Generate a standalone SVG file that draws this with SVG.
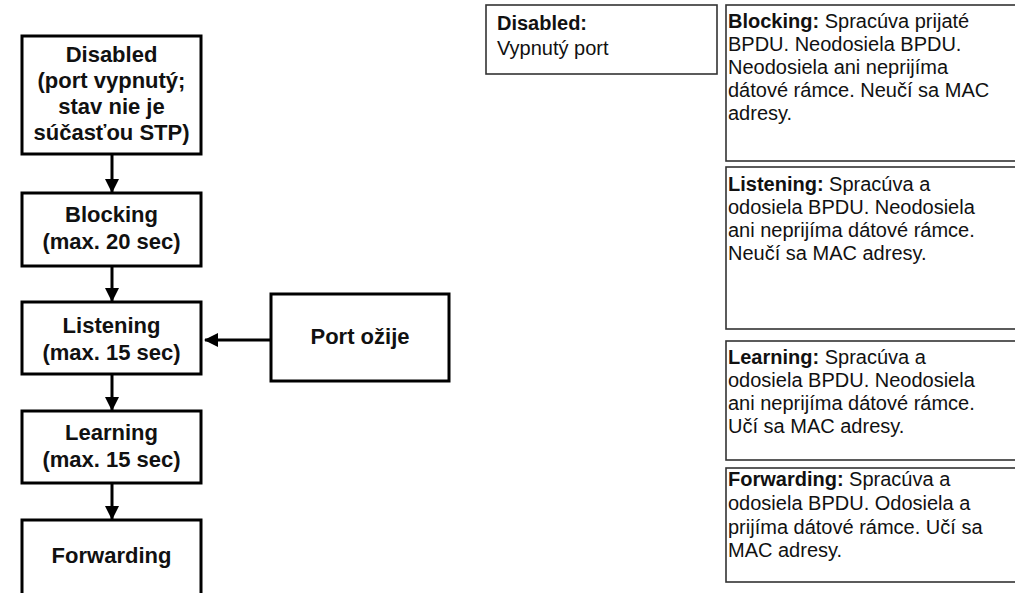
<svg xmlns="http://www.w3.org/2000/svg" width="1015" height="593" viewBox="0 0 1015 593">
<style>
.n{fill:#fff;stroke:#000;stroke-width:3}
.d{fill:#fff;stroke:#333;stroke-width:1.6}
.bt{font-family:"Liberation Sans",Arial,sans-serif;font-weight:bold;font-size:22px;fill:#111;text-anchor:middle}
.rt{font-family:"Liberation Sans",Arial,sans-serif;font-size:20px;fill:#111}
.rt .b{font-weight:bold}
.c{stroke:#000;stroke-width:3;fill:none}
</style>
<defs>
<marker id="ah" markerUnits="userSpaceOnUse" markerWidth="14" markerHeight="14" viewBox="0 0 14 14" refX="13" refY="7" orient="auto">
<path d="M0,0 L14,7 L0,14 z" fill="#000"/>
</marker>
</defs>
<rect width="1015" height="593" fill="#fff"/>
<g id="connectors">
<line class="c" x1="112" y1="155" x2="112" y2="192" marker-end="url(#ah)"/>
<line class="c" x1="112" y1="267" x2="112" y2="301" marker-end="url(#ah)"/>
<line class="c" x1="112" y1="375" x2="112" y2="410" marker-end="url(#ah)"/>
<line class="c" x1="112" y1="484" x2="112" y2="519" marker-end="url(#ah)"/>
<line class="c" x1="270" y1="340" x2="205" y2="340" marker-end="url(#ah)"/>
</g>
<g id="disabled">
<rect class="n" x="22" y="36" width="179" height="118"/>
<text class="bt" x="111.5" y="62">Disabled</text>
<text class="bt" x="111.5" y="88">(port vypnutý;</text>
<text class="bt" x="111.5" y="114">stav nie je</text>
<text class="bt" x="111.5" y="140">súčasťou STP)</text>
</g>
<g id="blocking">
<rect class="n" x="22" y="193" width="179" height="73"/>
<text class="bt" x="111.5" y="222">Blocking</text>
<text class="bt" x="111.5" y="249">(max. 20 sec)</text>
</g>
<g id="listening">
<rect class="n" x="22" y="302" width="179" height="72"/>
<text class="bt" x="111.5" y="333">Listening</text>
<text class="bt" x="111.5" y="360">(max. 15 sec)</text>
</g>
<g id="learning">
<rect class="n" x="22" y="411" width="179" height="72"/>
<text class="bt" x="111.5" y="440">Learning</text>
<text class="bt" x="111.5" y="467">(max. 15 sec)</text>
</g>
<g id="forwarding">
<rect class="n" x="22" y="520" width="179" height="76"/>
<text class="bt" x="111.5" y="563">Forwarding</text>
</g>
<g id="port-ozije">
<rect class="n" x="271" y="294" width="178" height="87"/>
<text class="bt" x="360" y="344">Port ožije</text>
</g>
<g id="desc-disabled">
<rect class="d" x="486" y="5" width="231" height="69"/>
<text class="rt" x="497" y="30"><tspan class="b">Disabled:</tspan></text>
<text class="rt" x="497" y="55">Vypnutý port</text>
</g>
<g id="desc-blocking">
<rect class="d" x="726" y="5" width="300" height="156"/>
<text class="rt" x="728" y="28"><tspan class="b">Blocking:</tspan> Spracúva prijaté</text>
<text class="rt" x="728" y="51">BPDU. Neodosiela BPDU.</text>
<text class="rt" x="728" y="74">Neodosiela ani neprijíma</text>
<text class="rt" x="728" y="97">dátové rámce. Neučí sa MAC</text>
<text class="rt" x="728" y="120">adresy.</text>
</g>
<g id="desc-listening">
<rect class="d" x="726" y="167" width="300" height="162"/>
<text class="rt" x="728" y="191"><tspan class="b">Listening:</tspan> Spracúva a</text>
<text class="rt" x="728" y="214">odosiela BPDU. Neodosiela</text>
<text class="rt" x="728" y="237">ani neprijíma dátové rámce.</text>
<text class="rt" x="728" y="260">Neučí sa MAC adresy.</text>
</g>
<g id="desc-learning">
<rect class="d" x="726" y="341" width="300" height="119"/>
<text class="rt" x="728" y="364"><tspan class="b">Learning:</tspan> Spracúva a</text>
<text class="rt" x="728" y="387">odosiela BPDU. Neodosiela</text>
<text class="rt" x="728" y="410">ani neprijíma dátové rámce.</text>
<text class="rt" x="728" y="433">Učí sa MAC adresy.</text>
</g>
<g id="desc-forwarding">
<rect class="d" x="726" y="468" width="300" height="114"/>
<text class="rt" x="728" y="486"><tspan class="b">Forwarding:</tspan> Spracúva a</text>
<text class="rt" x="728" y="510">odosiela BPDU. Odosiela a</text>
<text class="rt" x="728" y="534">prijíma dátové rámce. Učí sa</text>
<text class="rt" x="728" y="557">MAC adresy.</text>
</g>
</svg>
